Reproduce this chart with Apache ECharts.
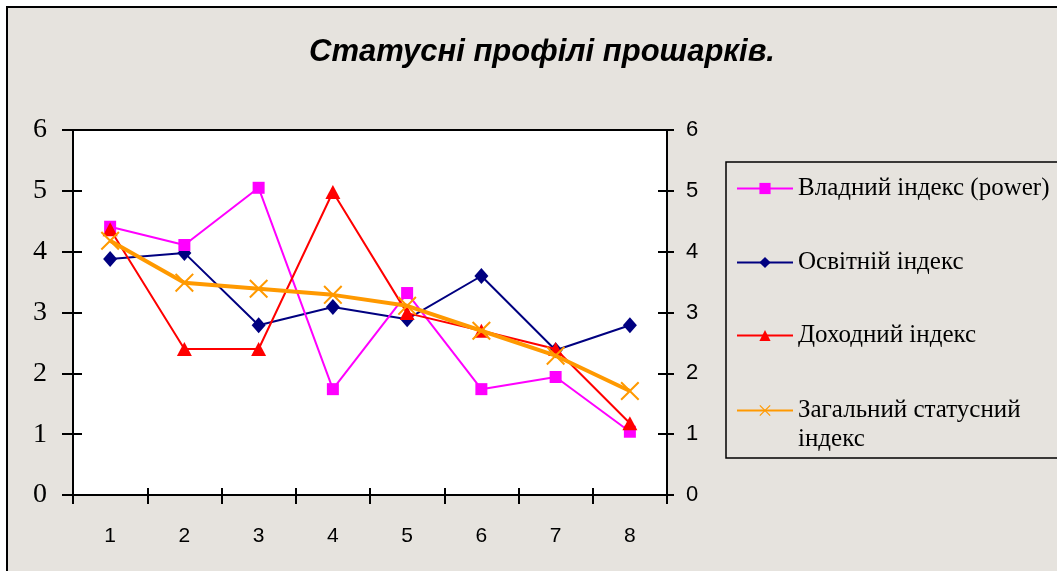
<!DOCTYPE html>
<html>
<head>
<meta charset="utf-8">
<script src="https://cdn.jsdelivr.net/npm/echarts@6/dist/echarts.min.js"></script>
<style>html,body{margin:0;padding:0;background:#fff}#c{width:1057px;height:571px}</style>
</head>
<body>
<div id="c"></div>
<script>
const titleText = 'Статусні профілі прошарків.';
const categories = ['1', '2', '3', '4', '5', '6', '7', '8'];
const seriesNames = ['Владний індекс (power)', 'Освітній індекс', 'Доходний індекс', 'Загальний статусний індекс'];
const powerIndex = [4.41, 4.11, 5.05, 1.74, 3.32, 1.74, 1.94, 1.04];
const educationIndex = [3.88, 3.98, 2.79, 3.09, 2.89, 3.60, 2.38, 2.79];
const incomeIndex = [4.37, 2.40, 2.40, 4.98, 2.99, 2.70, 2.40, 1.18];
const overallIndex = [4.18, 3.49, 3.39, 3.29, 3.11, 2.70, 2.29, 1.71];
const yTicks = [0, 1, 2, 3, 4, 5, 6];

const chart = echarts.init(document.getElementById('c'), null, {renderer: 'canvas'});
const X_PATH = 'path://M0,1.5 L1.5,0 L10,8.5 L18.5,0 L20,1.5 L11.5,10 L20,18.5 L18.5,20 L10,11.5 L1.5,20 L0,18.5 L8.5,10 Z';

const yBase = {type: 'value', min: yTicks[0], max: yTicks[yTicks.length - 1], interval: 1, splitLine: {show: false}};
const serif = 'Liberation Serif';
const sans = 'Liberation Sans';

function legendFor(i, top, formatter) {
  const l = {
    data: [seriesNames[i]], orient: 'vertical', left: 736, top: top, padding: 0,
    itemWidth: 56, itemHeight: 14, itemGap: 0,
    textStyle: {fontFamily: serif, fontSize: 25, color: '#000', lineHeight: 29},
    selectedMode: false
  };
  if (formatter) l.formatter = formatter;
  return l;
}

const option = {
  animation: false,
  backgroundColor: '#fff',
  title: {
    text: titleText, left: 304, top: 32,
    textStyle: {fontFamily: sans, fontStyle: 'italic', fontWeight: 'bold', fontSize: 31, color: '#000'}
  },
  graphic: [
    {type: 'rect', z: -10, shape: {x: 7, y: 7, width: 1100, height: 620}, style: {fill: '#e6e3de', stroke: '#000', lineWidth: 2}},
    {type: 'rect', z: -5, shape: {x: 726, y: 162, width: 400, height: 296}, style: {fill: 'transparent', stroke: '#000', lineWidth: 1.5}}
  ],
  legend: [
    legendFor(0, 174),
    legendFor(1, 248),
    legendFor(2, 321),
    legendFor(3, 367, function (n) { return '{e| }\n{a|Загальний статусний}\n{a|індекс}'; })
  ].map(function (l, i) {
    if (i === 3) l.textStyle.rich = {e: {lineHeight: 29, fontSize: 25}, a: {lineHeight: 29, fontSize: 25, fontFamily: serif, color: '#000'}};
    return l;
  }),
  grid: {left: 73, top: 130, right: 390, bottom: 76, show: true, backgroundColor: '#fff', borderColor: '#000', borderWidth: 2, containLabel: false},
  xAxis: [
    {type: 'category', data: categories, position: 'bottom', boundaryGap: true,
      axisLine: {lineStyle: {color: '#000', width: 2}},
      axisTick: {show: true, length: 9, inside: false, lineStyle: {color: '#000', width: 2}},
      axisLabel: {fontFamily: sans, fontSize: 21, color: '#000', margin: 31}},
    {type: 'category', data: categories, position: 'bottom', offset: 0, boundaryGap: true,
      axisLine: {show: false},
      axisTick: {show: true, length: 7, inside: true, lineStyle: {color: '#000', width: 2}},
      axisLabel: {show: false}}
  ],
  yAxis: [
    Object.assign({}, yBase, {position: 'left',
      axisLine: {show: true, lineStyle: {color: '#000', width: 2}},
      axisTick: {show: true, length: 11, lineStyle: {color: '#000', width: 2}},
      axisLabel: {fontFamily: serif, fontSize: 28, color: '#000', margin: 26}}),
    Object.assign({}, yBase, {position: 'right',
      axisLine: {show: true, lineStyle: {color: '#000', width: 2}},
      axisTick: {show: true, length: 7, lineStyle: {color: '#000', width: 2}},
      axisLabel: {fontFamily: sans, fontSize: 22, color: '#000', margin: 19}}),
    Object.assign({}, yBase, {position: 'left', offset: 0,
      axisLine: {show: false},
      axisTick: {show: true, inside: true, length: 9, lineStyle: {color: '#000', width: 2}},
      axisLabel: {show: false}}),
    Object.assign({}, yBase, {position: 'right', offset: 0,
      axisLine: {show: false},
      axisTick: {show: true, inside: true, length: 9, lineStyle: {color: '#000', width: 2}},
      axisLabel: {show: false}})
  ],
  series: [
    {name: seriesNames[0], type: 'line', data: powerIndex, symbol: 'rect', symbolSize: 12,
      lineStyle: {color: '#ff00ff', width: 2}, itemStyle: {color: '#ff00ff'}, z: 3},
    {name: seriesNames[1], type: 'line', data: educationIndex, symbol: 'diamond', symbolSize: [14, 16],
      lineStyle: {color: '#000080', width: 2}, itemStyle: {color: '#000080'}, z: 2},
    {name: seriesNames[2], type: 'line', data: incomeIndex, symbol: 'triangle', symbolSize: [15, 14],
      lineStyle: {color: '#ff0000', width: 2}, itemStyle: {color: '#ff0000'}, z: 4},
    {name: seriesNames[3], type: 'line', data: overallIndex, symbol: X_PATH, symbolSize: 19,
      lineStyle: {color: '#ff9900', width: 4}, itemStyle: {color: '#ff9900'}, z: 5}
  ]
};
chart.setOption(option);
</script>
</body>
</html>
